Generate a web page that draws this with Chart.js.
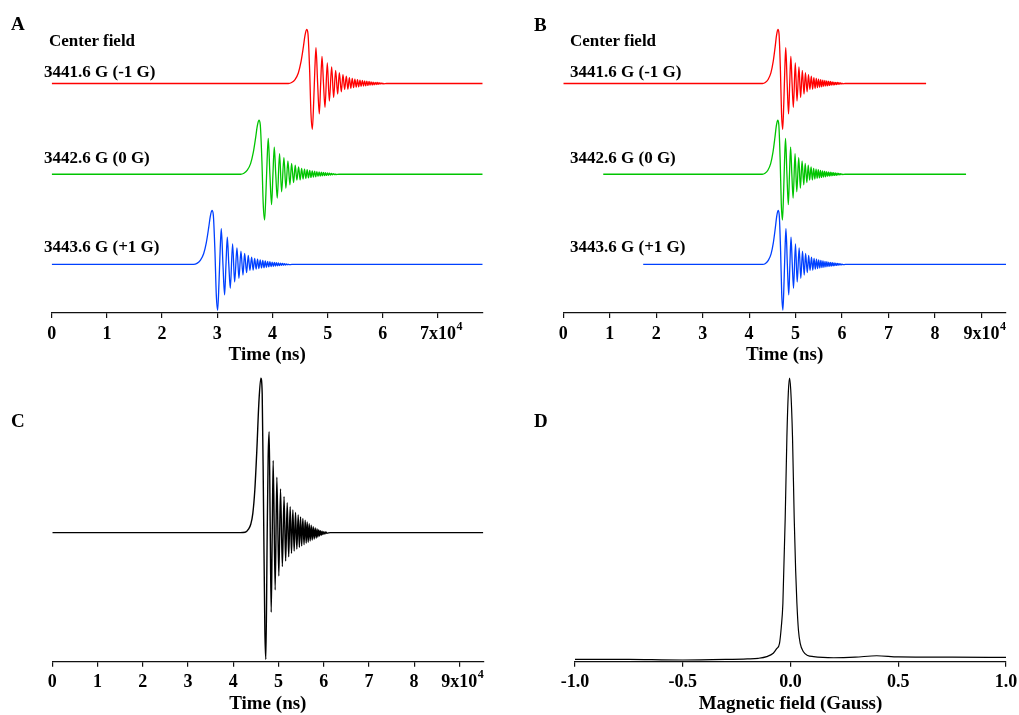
<!DOCTYPE html>
<html>
<head>
<meta charset="utf-8">
<script src="https://cdn.jsdelivr.net/npm/chart.js@4.4.1/dist/chart.umd.min.js"></script>
<style>
  body { margin: 0; background: #fff; width: 1019px; height: 715px; position: relative; overflow: hidden;
         font-family: "Liberation Serif", "Times New Roman", serif; font-weight: bold; color: #000; }
  canvas { position: absolute; }
  .lbl { position: absolute; white-space: nowrap; line-height: 1; font-size: 17px; }
  .panel { position: absolute; line-height: 1; font-size: 19px; }
</style>
</head>
<body>
<canvas id="chartA" width="509" height="372" style="left:0;top:0"></canvas>
<canvas id="chartB" width="520" height="372" style="left:509px;top:0"></canvas>
<canvas id="chartC" width="509" height="350" style="left:0;top:365px"></canvas>
<canvas id="chartD" width="520" height="350" style="left:509px;top:365px"></canvas>

<div class="panel" style="left:11px;top:14px">A</div>
<div class="panel" style="left:534px;top:15px">B</div>
<div class="panel" style="left:11px;top:411px">C</div>
<div class="panel" style="left:534px;top:411px">D</div>

<div class="lbl" style="left:49px;top:32px">Center field</div>
<div class="lbl" style="left:44px;top:63px">3441.6 G (-1 G)</div>
<div class="lbl" style="left:44px;top:149px">3442.6 G (0 G)</div>
<div class="lbl" style="left:44px;top:238px">3443.6 G (+1 G)</div>

<div class="lbl" style="left:570px;top:32px">Center field</div>
<div class="lbl" style="left:570px;top:63px">3441.6 G (-1 G)</div>
<div class="lbl" style="left:570px;top:149px">3442.6 G (0 G)</div>
<div class="lbl" style="left:570px;top:238px">3443.6 G (+1 G)</div>

<script>
// time in units of 10^4 ns, signals in arbitrary units (first peak = 1)

// rapid-scan pulse shape of panels A/B, read relative to its first maximum
var shapeDt = [-0.332, -0.272, -0.211, -0.151, -0.103, -0.060, -0.030, 0, 0.024, 0.054, 0.078, 0.103, 0.127, 0.148, 0.169,
    0.199, 0.229, 0.254, 0.278, 0.305, 0.332, 0.374, 0.411, 0.453, 0.489, 0.525, 0.562, 0.592, 0.628, 0.658, 0.688, 0.719,
    0.747, 0.774, 0.800, 0.826, 0.850, 0.874, 0.898, 0.921, 0.943, 0.966, 0.987, 1.009, 1.030, 1.050, 1.071, 1.091, 1.111,
    1.130, 1.149, 1.168, 1.187, 1.205, 1.223, 1.242, 1.260, 1.277, 1.295, 1.312, 1.330, 1.347, 1.364, 1.380, 1.397, 1.449];
var shapeAmp = [0, 0.018, 0.074, 0.196, 0.399, 0.675, 0.890, 1.0, 0.92, 0.245, -0.55, -0.847, -0.35, 0.25, 0.663,
    0.0, -0.564, 0.0, 0.503, 0.0, -0.442, 0.380, -0.325, 0.307, -0.258, 0.245, -0.196, 0.202, -0.153, 0.166, -0.110, 0.135,
    -0.105, 0.110, -0.088, 0.095, -0.077, 0.083, -0.068, 0.073, -0.060, 0.064, -0.053, 0.056, -0.047, 0.049, -0.041, 0.043, -0.036,
    0.037, -0.031, 0.032, -0.027, 0.027, -0.023, 0.023, -0.019, 0.019, -0.015, 0.015, -0.011, 0.011, -0.008, 0.007, -0.005, 0];

var traceNames = ['3441.6 G (-1 G)', '3442.6 G (0 G)', '3443.6 G (+1 G)'];
var peakTimeA = [4.62, 3.755, 2.904];   // first maximum of each trace in A
var shiftB = [0, 0.86, 1.72];           // shift applied in B so the peaks line up
var sweepLength = 7.81;
var traceOffset = [4.25, 2.57, 0.90];   // vertical stacking of the traces

// panel C, averaged signal
var peakTimeC = 4.611;
var lengthC = 9.53;
var dtC = [-0.457, -0.347, -0.273, -0.221, -0.177, -0.133, -0.088, -0.044, 0, 0.030, 0.059, 0.089, 0.111, 0.140, 0.162,
    0.184, 0.206, 0.229, 0.251, 0.273, 0.317, 0.354, 0.398, 0.435, 0.476, 0.513, 0.549, 0.583, 0.616, 0.649, 0.678, 0.708,
    0.737, 0.767, 0.796, 0.826, 0.852, 0.878, 0.903, 0.929, 0.955, 0.981, 1.003, 1.025, 1.047, 1.069, 1.091, 1.114, 1.136,
    1.158, 1.180, 1.202, 1.224, 1.243, 1.261, 1.280, 1.298, 1.316, 1.335, 1.353, 1.372, 1.394, 1.416, 1.438, 1.460, 1.534];
var ampC = [0, 0.002, 0.022, 0.056, 0.125, 0.276, 0.536, 0.838, 1.0, 0.903, 0.19, -0.63, -0.821, -0.026, 0.49,
    0.654, 0.08, -0.516, -0.026, 0.467, -0.371, 0.359, -0.281, 0.283, -0.220, 0.233, -0.184, 0.194, -0.156, 0.168, -0.134, 0.147,
    -0.119, 0.130, -0.106, 0.114, -0.095, 0.102, -0.086, 0.091, -0.078, 0.080, -0.069, 0.069, -0.063, 0.058, -0.054, 0.048, -0.048,
    0.039, -0.041, 0.030, -0.035, 0.024, -0.028, 0.017, -0.022, 0.013, -0.017, 0.009, -0.013, 0.006, -0.009, 0.004, -0.004, 0];

// panel D, spectrum
var fieldD = [-1.0, -0.75, -0.5, -0.3, -0.2, -0.15, -0.11, -0.08, -0.065, -0.051, -0.043, -0.0353, -0.0246, -0.0167, -0.010,
    -0.0046, 0.001, 0.0093, 0.0172, 0.024, 0.0297, 0.037, 0.045, 0.06, 0.08, 0.107, 0.15, 0.2, 0.3, 0.4, 0.5, 0.75, 1.0];
var signalD = [0.0085, 0.008, 0.006, 0.008, 0.010, 0.012, 0.018, 0.03, 0.045, 0.065, 0.12, 0.206, 0.506, 0.794, 0.95,
    1.0, 0.96, 0.794, 0.506, 0.32, 0.206, 0.11, 0.065, 0.035, 0.022, 0.018, 0.015, 0.014, 0.016, 0.021, 0.017, 0.016, 0.015];

var traceColors = ['#ff0000', '#00c400', '#0040ff'];

Chart.defaults.font.family = '"Liberation Serif", "Times New Roman", serif';
Chart.defaults.font.weight = 'bold';
Chart.defaults.color = '#000';

function pulsePoints(start, end, peak, offset, dts, amps) {
    var pts = [{ x: start, y: offset }];
    for (var i = 0; i < dts.length; i++) {
        var t = peak + dts[i];
        if (t > start && t < end) pts.push({ x: t, y: offset + amps[i] });
    }
    pts.push({ x: end, y: offset });
    return pts;
}

// superscript "4" after the last labelled tick (x10^4)
var supPlugin = {
    id: 'sup',
    afterDraw: function (chart, args, opts) {
        if (opts.value == null) return;
        var sx = chart.scales.x;
        var ctx = chart.ctx;
        ctx.save();
        ctx.font = 'bold 18px "Liberation Serif"';
        var w = ctx.measureText(opts.value + 'x10').width;
        var x = sx.getPixelForValue(opts.value) + w / 2 + 0.5;
        ctx.font = 'bold 12px "Liberation Serif"';
        ctx.fillStyle = '#000';
        ctx.textBaseline = 'middle';
        ctx.textAlign = 'left';
        ctx.fillText('4', x, sx.top + 13.5);
        ctx.restore();
    }
};

function xAxis(opts) {
    return {
        type: 'linear',
        min: opts.min,
        max: opts.max,
        border: { display: true, color: '#111', width: 1.2 },
        grid: { display: true, drawOnChartArea: false, drawTicks: true, tickLength: 5, color: '#111', lineWidth: 1.2 },
        ticks: {
            stepSize: opts.step,
            includeBounds: false,
            autoSkip: false,
            maxRotation: 0,
            padding: 7,
            color: '#000',
            font: { size: 18, weight: 'bold', lineHeight: 1 },
            callback: opts.format
        },
        title: {
            display: true,
            text: opts.title,
            color: '#000',
            font: { size: 19, weight: 'bold', lineHeight: 1 },
            padding: { top: 0, bottom: opts.titlePad }
        },
        afterFit: function (s) { s.height = opts.axisHeight; }
    };
}

function timeFormat(supValue) {
    return function (v) {
        var n = Math.round(v);
        return n === supValue ? n + 'x10' : String(n);
    };
}

function makeChart(id, datasets, x, yMin, yMax, pad, supValue) {
    return new Chart(document.getElementById(id).getContext('2d'), {
        type: 'line',
        data: { datasets: datasets },
        options: {
            responsive: false,
            animation: false,
            devicePixelRatio: 1,
            layout: { padding: pad },
            elements: { point: { radius: 0 }, line: { cubicInterpolationMode: 'monotone', borderWidth: 1.3 } },
            scales: {
                x: x,
                y: { display: false, min: yMin, max: yMax }
            },
            plugins: { legend: { display: false }, tooltip: { enabled: false }, sup: { value: supValue } }
        },
        plugins: [supPlugin]
    });
}

// A
var dsA = [];
for (var k = 0; k < 3; k++) {
    dsA.push({
        label: traceNames[k],
        data: pulsePoints(0, sweepLength, peakTimeA[k], traceOffset[k], shapeDt, shapeAmp),
        borderColor: traceColors[k]
    });
}
makeChart('chartA', dsA,
    xAxis({ min: 0, max: sweepLength, step: 1, title: 'Time (ns)', titlePad: 7.5, axisHeight: 59, format: timeFormat(7) }),
    0, 5.556, { left: 51.7, right: 26.3, top: 13, bottom: 0 }, 7);

// B
var dsB = [];
for (var k = 0; k < 3; k++) {
    dsB.push({
        label: traceNames[k],
        data: pulsePoints(shiftB[k], shiftB[k] + sweepLength, peakTimeA[k] + shiftB[k], traceOffset[k], shapeDt, shapeAmp),
        borderColor: traceColors[k]
    });
}
makeChart('chartB', dsB,
    xAxis({ min: 0, max: 9.53, step: 1, title: 'Time (ns)', titlePad: 7.5, axisHeight: 59, format: timeFormat(9) }),
    0, 5.556, { left: 54.3, right: 23, top: 13, bottom: 0 }, 9);

// C
makeChart('chartC', [{
        label: 'average',
        data: pulsePoints(0, lengthC, peakTimeC, 0, dtC, ampC),
        borderColor: '#000',
        borderWidth: 1.4
    }],
    xAxis({ min: 0, max: lengthC, step: 1, title: 'Time (ns)', titlePad: 1.2, axisHeight: 53.3, format: timeFormat(9) }),
    -0.836, 1.053, { left: 52.3, right: 25.7, top: 5, bottom: 0 }, 9);

// D
var ptsD = fieldD.map(function (f, i) { return { x: f, y: signalD[i] }; });
makeChart('chartD', [{ label: 'spectrum', data: ptsD, borderColor: '#000', borderWidth: 1.2 }],
    xAxis({ min: -1, max: 1, step: 0.5, title: 'Magnetic field (Gauss)', titlePad: 1.2, axisHeight: 53.3,
        format: function (v) { return v.toFixed(1); } }),
    0, 1.029, { left: 66, right: 23, top: 5, bottom: 0 }, null);
</script>
</body>
</html>
